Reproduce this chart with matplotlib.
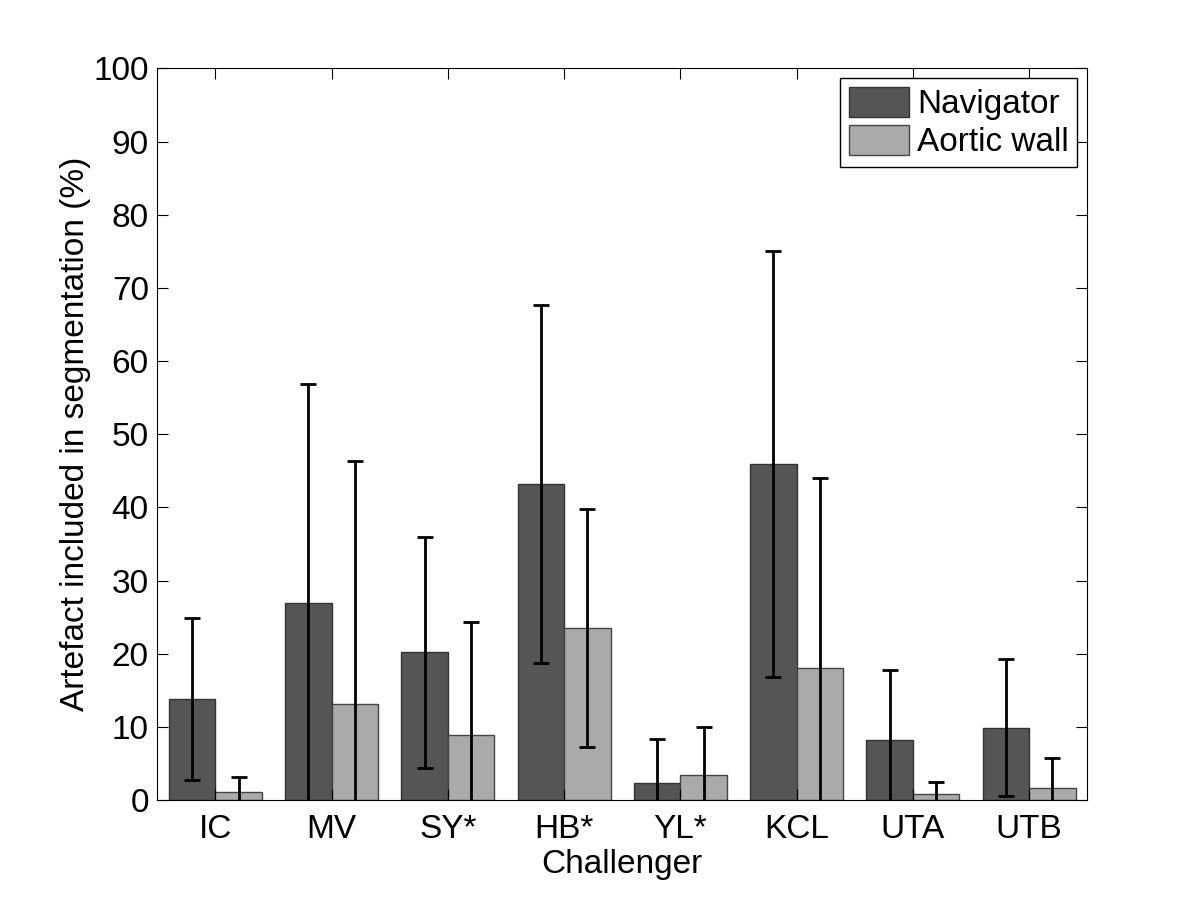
import numpy as np
import matplotlib.pyplot as plt

plt.rcParams['font.family'] = ['Liberation Sans', 'DejaVu Sans']

challengers = ['IC', 'MV', 'SY*', 'HB*', 'YL*', 'KCL', 'UTA', 'UTB']
navigator = [13.8, 27.0, 20.2, 43.2, 2.3, 45.9, 8.2, 9.9]
navigator_err = [11.1, 29.8, 15.8, 24.4, 6.1, 29.1, 9.6, 9.4]
aortic = [1.1, 13.2, 8.9, 23.5, 3.4, 18.0, 0.9, 1.6]
aortic_err = [2.0, 33.2, 15.4, 16.3, 6.6, 26.0, 1.6, 4.1]

x = np.arange(1, len(challengers) + 1)
w = 0.4

fig = plt.figure(figsize=(12, 9), dpi=100)
ax = fig.add_axes([0.131, 0.111, 0.775, 0.813])

ax.bar(x - w / 2, navigator, w, color='#555555', edgecolor='#333333', linewidth=1, label='Navigator')
ax.bar(x + w / 2, aortic, w, color='#aaaaaa', edgecolor='#444444', linewidth=1, label='Aortic wall')
ax.errorbar(x - w / 2, navigator, yerr=navigator_err, fmt='none', ecolor='black',
            elinewidth=2, capsize=6, capthick=2)
ax.errorbar(x + w / 2, aortic, yerr=aortic_err, fmt='none', ecolor='black',
            elinewidth=2, capsize=6, capthick=2)

ax.set_xlim(0.5, 8.5)
ax.set_ylim(0, 100)
ax.set_yticks(np.arange(0, 101, 10))
ax.set_xticks(x)
ax.set_xticklabels(challengers)
ax.tick_params(direction='in', length=8, labelsize=24, top=True, right=True)
ax.tick_params(axis='x', pad=10)
ax.tick_params(axis='y', pad=6)
ax.set_xlabel('Challenger', fontsize=24, labelpad=3)
ax.set_ylabel('Artefact included in segmentation (%)', fontsize=24, labelpad=2)

leg = ax.legend(loc='upper right', fontsize=24, fancybox=False, edgecolor='black',
                framealpha=1, handlelength=1.8, handleheight=1.0, borderaxespad=0.3,
                handletextpad=0.25, labelspacing=0.15, borderpad=0.25)
leg.get_frame().set_linewidth(1)

fig.savefig('out.png', dpi=100)
